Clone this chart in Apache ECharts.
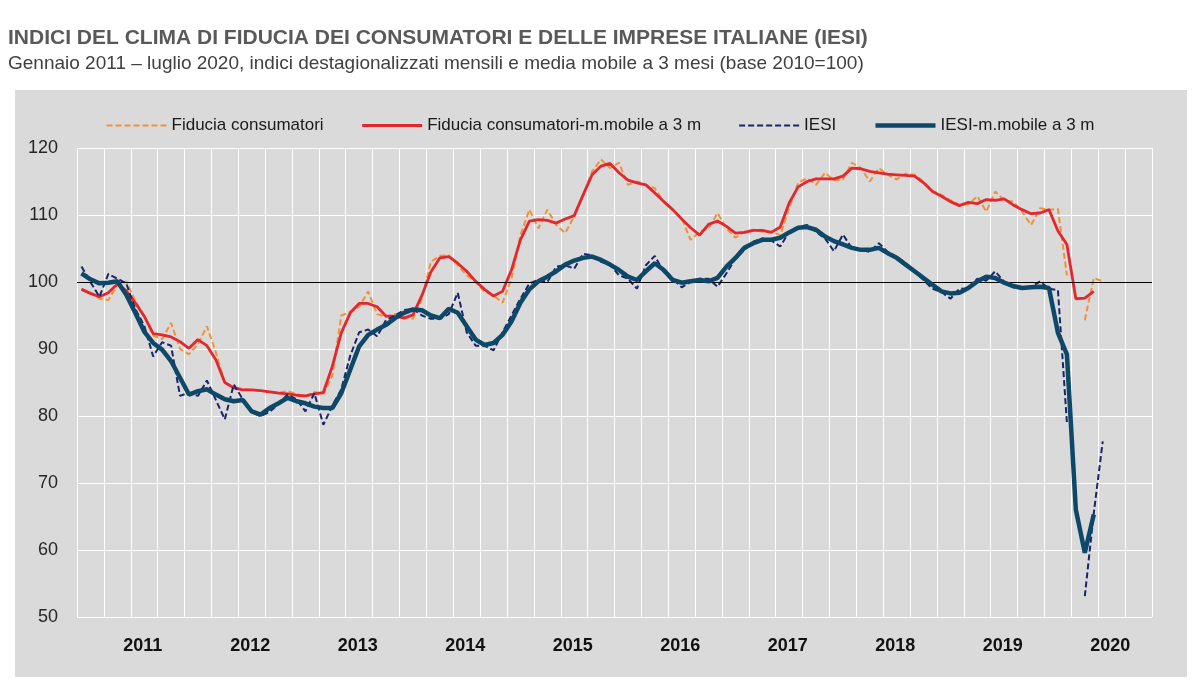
<!DOCTYPE html>
<html>
<head>
<meta charset="utf-8">
<script src="https://cdn.jsdelivr.net/npm/echarts@6/dist/echarts.min.js"></script>
<style>
  html, body { margin: 0; padding: 0; background: #fff; }
</style>
</head>
<body>
<div id="chart" style="width:1200px; height:690px;"></div>
<script>
// anni e mesi (asse x: gen 2011 - dic 2020)
var years = ['2011', '2012', '2013', '2014', '2015', '2016', '2017', '2018', '2019', '2020'];
var months = ['01', '02', '03', '04', '05', '06', '07', '08', '09', '10', '11', '12'];
var yTicks = [50, 60, 70, 80, 90, 100, 110, 120];

// Fiducia consumatori (gen 2011 - lug 2020), aprile 2020 non rilevato
var fiduciaCons = [
  99.0, 98.4, 97.5, 97.3, 99.6, 100.1, 97.2, 95.0, 92.0, 91.5,
  93.9, 90.0, 89.2, 90.7, 93.4, 89.5, 85.0, 84.3, 84.0, 83.9,
  83.8, 83.6, 83.5, 83.7, 83.3, 82.9, 83.6, 83.3, 86.0, 95.0,
  95.5, 96.3, 98.6, 95.2, 94.8, 95.2, 94.8, 94.5, 97.5, 103.0,
  103.9, 104.0, 102.5, 101.0, 100.0, 98.5, 98.0, 96.9, 100.5, 107.0,
  110.8, 108.0, 110.8, 108.5, 107.3, 109.8, 113.0, 116.5, 118.3, 117.0,
  117.8, 114.5, 115.0, 114.5, 114.0, 112.0, 110.8, 109.5, 106.3, 107.5,
  108.0, 110.3, 108.0, 106.6, 107.5, 107.8, 107.5, 107.5, 107.0, 111.0,
  114.8, 115.5, 114.5, 116.3, 115.2, 115.3, 117.8, 117.0, 115.0, 117.0,
  116.0, 115.3, 116.2, 116.0, 115.0, 113.6, 113.0, 112.2, 111.5, 111.6,
  112.8, 110.5, 113.5, 112.2, 112.0, 110.5, 108.5, 111.0, 110.8, 110.9,
  101.0, null, 94.3, 100.6, 100.1
];

// Fiducia consumatori - media mobile a 3 mesi
var fiduciaConsMM = [
  98.9, 98.3, 97.8, 98.4, 99.7, 98.7, 96.9, 94.9, 92.3, 92.1,
  91.8, 91.1, 90.1, 91.4, 90.5, 88.4, 85.0, 84.2, 83.9, 83.9,
  83.8, 83.6, 83.4, 83.3, 83.1, 83.0, 83.3, 83.5, 87.4, 92.4,
  95.4, 96.8, 96.8, 96.3, 94.9, 94.9, 94.6, 95.1, 98.0, 101.5,
  103.6, 103.8, 102.8, 101.6, 100.1, 98.9, 97.9, 98.6, 101.8, 106.3,
  109.1, 109.3, 109.2, 108.8, 109.4, 109.9, 113.0, 116.0, 117.3, 117.7,
  116.3, 115.2, 114.8, 114.5, 113.3, 112.0, 110.8, 109.4, 108.1, 107.0,
  108.6, 109.1, 108.3, 107.3, 107.4, 107.7, 107.7, 107.4, 108.2, 111.8,
  114.2, 115.0, 115.4, 115.4, 115.4, 115.8, 117.0, 116.9, 116.5, 116.3,
  116.1, 116.0, 115.9, 115.8, 114.8, 113.5, 112.8, 112.0, 111.4, 111.9,
  111.7, 112.3, 112.2, 112.4, 111.5, 110.8, 110.2, 110.3, 110.8, 107.6,
  105.6, 97.5, 97.6, 98.6
];

// IESI
var iesi = [
  102.3, 100.0, 97.8, 101.2, 100.5, 99.8, 96.0, 93.5, 88.9, 91.0,
  90.5, 83.0, 83.5, 83.0, 85.3, 82.4, 79.5, 84.7, 82.5, 80.5,
  80.0, 80.6, 81.8, 83.2, 82.5, 80.7, 83.4, 78.7, 81.5, 84.0,
  89.0, 92.5, 92.9, 91.9, 94.3, 95.0, 95.8, 96.0, 95.0, 94.5,
  94.5, 95.2, 98.4, 92.5, 90.5, 90.5, 89.8, 92.5, 95.0, 97.5,
  99.8, 100.3, 100.0, 102.3, 102.5, 102.0, 104.2, 104.0, 103.0, 102.6,
  101.0, 100.5, 99.0, 102.5, 103.9, 101.5, 100.5, 99.2, 100.0, 100.5,
  100.5, 99.3, 101.3, 103.5, 104.8, 106.0, 106.5, 106.2, 105.3, 107.5,
  108.2, 108.5, 107.5, 106.5, 104.6, 107.1, 105.0, 104.8, 104.5, 105.8,
  104.5, 103.8, 102.8, 101.5, 100.3, 99.0, 98.5, 97.5, 99.0, 99.0,
  100.5, 100.2, 101.6, 100.0, 99.2, 99.0, 99.2, 100.1, 99.0, 98.8,
  79.0, null, 53.1, 65.5, 76.2
];

// IESI - media mobile a 3 mesi
var iesiMM = [
  101.3, 100.4, 99.8, 99.9, 100.1, 98.1, 95.4, 92.6, 90.9, 89.9,
  88.2, 85.7, 83.2, 83.7, 84.0, 83.2, 82.5, 82.2, 82.4, 80.7,
  80.2, 81.2, 81.9, 82.7, 82.2, 81.9, 81.4, 81.2, 81.2, 83.4,
  86.9, 90.4, 92.1, 92.9, 93.6, 94.6, 95.4, 95.9, 95.8, 95.0,
  94.6, 96.0, 95.4, 93.4, 91.4, 90.6, 90.9, 92.1, 94.1, 96.9,
  98.9, 100.1, 100.8, 101.6, 102.6, 103.2, 103.6, 103.8, 103.3, 102.6,
  101.8, 100.8, 100.3, 101.6, 102.8, 101.8, 100.3, 99.9, 100.1, 100.3,
  100.1, 100.6, 102.3, 103.6, 105.1, 105.8, 106.3, 106.3, 106.6, 107.4,
  108.1, 108.2, 107.8, 106.8, 106.1, 105.6, 105.1, 104.8, 104.8, 105.1,
  104.3, 103.6, 102.6, 101.6, 100.6, 99.6, 98.6, 98.3, 98.4, 99.1,
  100.1, 100.8, 100.6, 99.9, 99.4, 99.1, 99.2, 99.3, 99.1, 92.4,
  89.2, 66.0, 59.6, 65.3
];

var monthCats = [];
years.forEach(function (y) {
  months.forEach(function (m) { monthCats.push(y + '-' + m); });
});

var FONT = "'Liberation Sans', Arial, sans-serif";

var myChart = echarts.init(document.getElementById('chart'));
myChart.setOption({
  backgroundColor: '#ffffff',
  animation: false,
  textStyle: { fontFamily: FONT },
  graphic: [{
    type: 'rect',
    z: -10,
    shape: { x: 15, y: 90, width: 1172, height: 587 },
    style: { fill: '#dadada' }
  }],
  title: [{
    text: 'INDICI DEL CLIMA DI FIDUCIA DEI CONSUMATORI E DELLE IMPRESE ITALIANE (IESI)',
    left: 3, top: 23,
    textStyle: { fontFamily: FONT, fontSize: 21, fontWeight: 'bold', color: '#595959' }
  }, {
    text: 'Gennaio 2011 \u2013 luglio 2020, indici destagionalizzati mensili e media mobile a 3 mesi (base 2010=100)',
    left: 3, top: 49,
    textStyle: { fontFamily: FONT, fontSize: 19, fontWeight: 'normal', color: '#404040' }
  }],
  legend: {
    top: 112,
    left: 'center',
    itemWidth: 60,
    itemHeight: 14,
    itemGap: 37,
    itemStyle: { opacity: 0 },
    textStyle: { fontFamily: FONT, fontSize: 17, color: '#1a1a1a' },
    data: [
      { name: 'Fiducia consumatori', lineStyle: { width: 2 } },
      { name: 'Fiducia consumatori-m.mobile a 3 m', lineStyle: { width: 3 } },
      { name: 'IESI', lineStyle: { width: 2 } },
      { name: 'IESI-m.mobile a 3 m', lineStyle: { width: 4.5 } }
    ]
  },
  grid: { left: 77, right: 48, top: 148, bottom: 73, containLabel: false },
  xAxis: [{
    type: 'category',
    data: monthCats,
    boundaryGap: true,
    axisLine: { show: false },
    axisTick: { show: false },
    axisLabel: { show: false },
    splitLine: { show: true, interval: 2, lineStyle: { color: '#ffffff', width: 1 } }
  }, {
    type: 'category',
    data: years,
    position: 'bottom',
    boundaryGap: true,
    axisLine: { show: false },
    axisTick: { show: false },
    splitLine: { show: false },
    axisLabel: {
      margin: 20,
      padding: [0, 0, 0, 24],
      fontFamily: FONT, fontSize: 18, fontWeight: 'bold', color: '#111111'
    }
  }],
  yAxis: {
    type: 'value',
    min: yTicks[0],
    max: yTicks[yTicks.length - 1],
    interval: 10,
    axisLine: { show: false },
    axisTick: { show: false },
    axisLabel: { margin: 19, fontFamily: FONT, fontSize: 18, color: '#262626' },
    splitLine: { lineStyle: { color: '#ffffff', width: 1 } }
  },
  series: [{
    name: 'Fiducia consumatori',
    type: 'line',
    data: fiduciaCons,
    symbol: 'none',
    connectNulls: false,
    lineStyle: { color: '#f0913a', width: 2, type: [6, 3] },
    itemStyle: { color: '#f0913a' },
    z: 2,
    markLine: {
      silent: true,
      symbol: 'none',
      label: { show: false },
      lineStyle: { color: '#000000', width: 1.2, type: 'solid' },
      data: [{ yAxis: 100 }]
    }
  }, {
    name: 'Fiducia consumatori-m.mobile a 3 m',
    type: 'line',
    data: fiduciaConsMM,
    symbol: 'none',
    lineStyle: { color: '#e3272c', width: 2.8 },
    itemStyle: { color: '#e3272c' },
    z: 3
  }, {
    name: 'IESI',
    type: 'line',
    data: iesi,
    symbol: 'none',
    connectNulls: false,
    lineStyle: { color: '#17256a', width: 2, type: [6, 3] },
    itemStyle: { color: '#17256a' },
    z: 4
  }, {
    name: 'IESI-m.mobile a 3 m',
    type: 'line',
    data: iesiMM,
    symbol: 'none',
    lineStyle: { color: '#0e4868', width: 4.5 },
    itemStyle: { color: '#0e4868' },
    z: 5
  }]
});
</script>
</body>
</html>
